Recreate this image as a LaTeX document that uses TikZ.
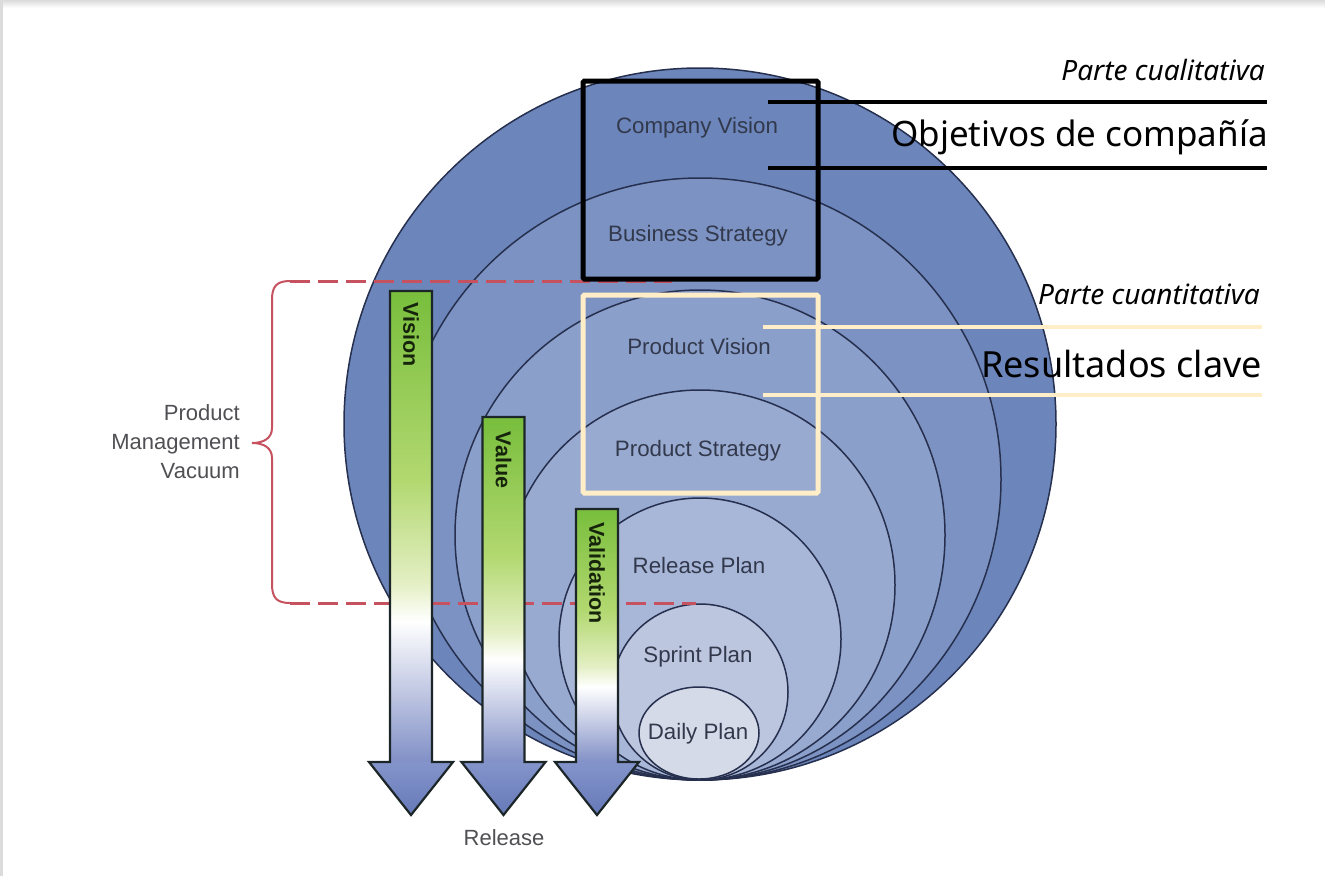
\documentclass[tikz,border=0pt]{standalone}
\usepackage{fontspec}
\setmainfont{Liberation Sans}
\newfontfamily\overlayfont{Noto Sans}
\usetikzlibrary{calc}

% ring fills, from the outermost plan level inwards
\definecolor{ringA}{RGB}{108,133,186}
\definecolor{ringB}{RGB}{124,146,195}
\definecolor{ringC}{RGB}{139,159,203}
\definecolor{ringD}{RGB}{153,170,209}
\definecolor{ringE}{RGB}{168,182,215}
\definecolor{ringF}{RGB}{188,198,222}
\definecolor{ringG}{RGB}{212,218,231}
\definecolor{ringline}{RGB}{38,48,78}
\definecolor{ringtext}{RGB}{50,57,76}
\definecolor{sidetext}{RGB}{80,80,84}
\definecolor{vacuumred}{RGB}{198,82,96}
\definecolor{shaftblue}{RGB}{128,143,198}
\definecolor{shaftpale}{RGB}{228,239,196}
\definecolor{shaftlight}{RGB}{178,216,112}
\definecolor{shaftgreen}{RGB}{120,190,60}
\definecolor{headtop}{RGB}{132,148,203}
\definecolor{headbot}{RGB}{102,122,184}
\definecolor{arrowline}{RGB}{28,38,40}
\definecolor{arrowtext}{RGB}{22,36,12}
\definecolor{cream}{RGB}{255,238,200}

% green -> white -> blue fill of an arrow shaft (25bp..75bp spans the shaft)
\pgfdeclareverticalshading{shaftshade}{100bp}{%
  color(0bp)=(shaftblue); color(25bp)=(shaftblue); color(40bp)=(white);
  color(44bp)=(shaftpale); color(55bp)=(shaftlight); color(75bp)=(shaftgreen);
  color(100bp)=(shaftgreen)}

\tikzset{
  ring/.style={draw=ringline, line width=1.5pt},
  ringlabel/.style={text=ringtext, font=\fontsize{22.3}{26}\selectfont, inner sep=0pt},
  arrowoutline/.style={draw=arrowline, line width=2.2pt, line join=miter},
  arrowlabel/.style={text=arrowtext, font=\bfseries\fontsize{21.5}{25}\selectfont, rotate=-90, inner sep=0pt},
  vacuumdash/.style={draw=vacuumred, line width=3pt, dash pattern=on 20pt off 8pt},
  vacuumbrace/.style={draw=vacuumred, line width=2pt},
  sidelabel/.style={text=sidetext, font=\fontsize{22}{29}\selectfont, inner sep=0pt},
  darkframe/.style={draw=black, line width=5pt, rounded corners=1.5pt},
  creamframe/.style={draw=cream, line width=5pt, rounded corners=1.5pt},
  darkrule/.style={draw=black, line width=4.5pt},
  creamrule/.style={draw=cream, line width=4.5pt},
  parttitle/.style={font=\overlayfont\itshape\fontsize{28}{32}\selectfont, inner sep=0pt, anchor=base east},
  partbody/.style={font=\overlayfont\fontsize{#1}{40}\selectfont, inner sep=0pt, anchor=base east},
}

\begin{document}
\begin{tikzpicture}[x=1pt,y=-1pt]
\useasboundingbox (0,0) rectangle (1325,876);

% page card with its faint frame
\fill[white] (0,0) rectangle (1325,876);
\shade[top color=black!14, bottom color=white] (0,0) rectangle (1325,8);
\fill[black!14] (0,0) rectangle (3,876);

% nested planning levels, all touching at the bottom
\filldraw[ring, fill=ringA] (700,424) circle[radius=356pt];
\filldraw[ring, fill=ringB] (700,479) circle[radius=301pt];
\filldraw[ring, fill=ringC] (700,535) circle[radius=245pt];
\filldraw[ring, fill=ringD] (700,585) circle[radius=195pt];
\filldraw[ring, fill=ringE] (700,639) circle[radius=141pt];
\filldraw[ring, fill=ringF] (700,692) circle[radius=88pt];
\filldraw[ring, fill=ringG] (699,733) ellipse[x radius=60pt, y radius=46pt];

\node[ringlabel] (companyvision) at (697,128) {Company Vision};
\node[ringlabel] (businessstrategy) at (698,236) {Business Strategy};
\node[ringlabel] (productvision) at (699,347) {Product Vision};
\node[ringlabel] (productstrategy) at (698,451) {Product Strategy};
\node[ringlabel] (releaseplan) at (699,566) {Release Plan};
\node[ringlabel] (sprintplan) at (698,657) {Sprint Plan};
\node[ringlabel] (dailyplan) at (698,734) {Daily Plan};

% product management vacuum: dashed limits and brace
\coordinate (vactop) at (290,281);
\coordinate (vacbot) at (290,603);
\coordinate (vactopend) at (672,281);
\coordinate (vacbotend) at (696,603);
\draw[vacuumdash] (vactop) -- (vactopend);
\draw[vacuumdash] (vacbot) -- (vacbotend);
\draw[vacuumbrace] (vactop) .. controls (276,281) and (272,287) .. (272,300)
  -- (272,428) .. controls (272,438) and (264,443) .. (252,443)
  .. controls (264,443) and (272,448) .. (272,458)
  -- (272,584) .. controls (272,597) and (276,603) .. (vacbot);
\node[sidelabel, align=right, anchor=east] (vacuum) at (240,442) {Product\\Management\\Vacuum};

% downward arrows towards the release
\newcommand\releasearrow[3]{%
  % #1 centre x, #2 top of shaft, #3 name prefix
  \shade[shading=shaftshade] (#1-21,#2) rectangle (#1+21,763);
  \shade[top color=headtop, bottom color=headbot] (#1-42,762) -- (#1+42,762) -- (#1,815) -- cycle;
  \draw[arrowoutline] (#1-21,#2) -- (#1+21,#2) -- (#1+21,762) -- (#1+42,762) -- (#1,815)
    -- (#1-42,762) -- (#1-21,762) -- cycle;
  \coordinate (#3tip) at (#1,815);
}
\releasearrow{411}{291}{vision}
\releasearrow{503.5}{417}{value}
\releasearrow{597}{509}{validation}

\node[arrowlabel] (visionlabel) at (411,335) {Vision};
\node[arrowlabel] (valuelabel) at (503.5,460) {Value};
\node[arrowlabel] (validationlabel) at (597,573) {Validation};
\node[sidelabel] (release) at (504,838) {Release};

% qualitative part: company objectives
\draw[darkframe] (583,81) rectangle (818,279);
\coordinate (darkruleAstart) at (768,102);
\coordinate (darkruleAend) at (1267,102);
\coordinate (darkruleBstart) at (768,168);
\coordinate (darkruleBend) at (1267,168);
\draw[darkrule] (darkruleAstart) -- (darkruleAend);
\draw[darkrule] (darkruleBstart) -- (darkruleBend);
\node[parttitle] (qualitative) at (1265,80) {Parte cualitativa};
\node[partbody=35] (objectives) at (1268,146) {Objetivos de compañía};

% quantitative part: key results
\draw[creamframe] (583,295) rectangle (818,493);
\coordinate (creamruleAstart) at (763,327);
\coordinate (creamruleAend) at (1262,327);
\coordinate (creamruleBstart) at (763,395);
\coordinate (creamruleBend) at (1262,395);
\draw[creamrule] (creamruleAstart) -- (creamruleAend);
\draw[creamrule] (creamruleBstart) -- (creamruleBend);
\node[parttitle] (quantitative) at (1260,304) {Parte cuantitativa};
\node[partbody=36] (keyresults) at (1262,377) {Resultados clave};
\end{tikzpicture}
\end{document}
